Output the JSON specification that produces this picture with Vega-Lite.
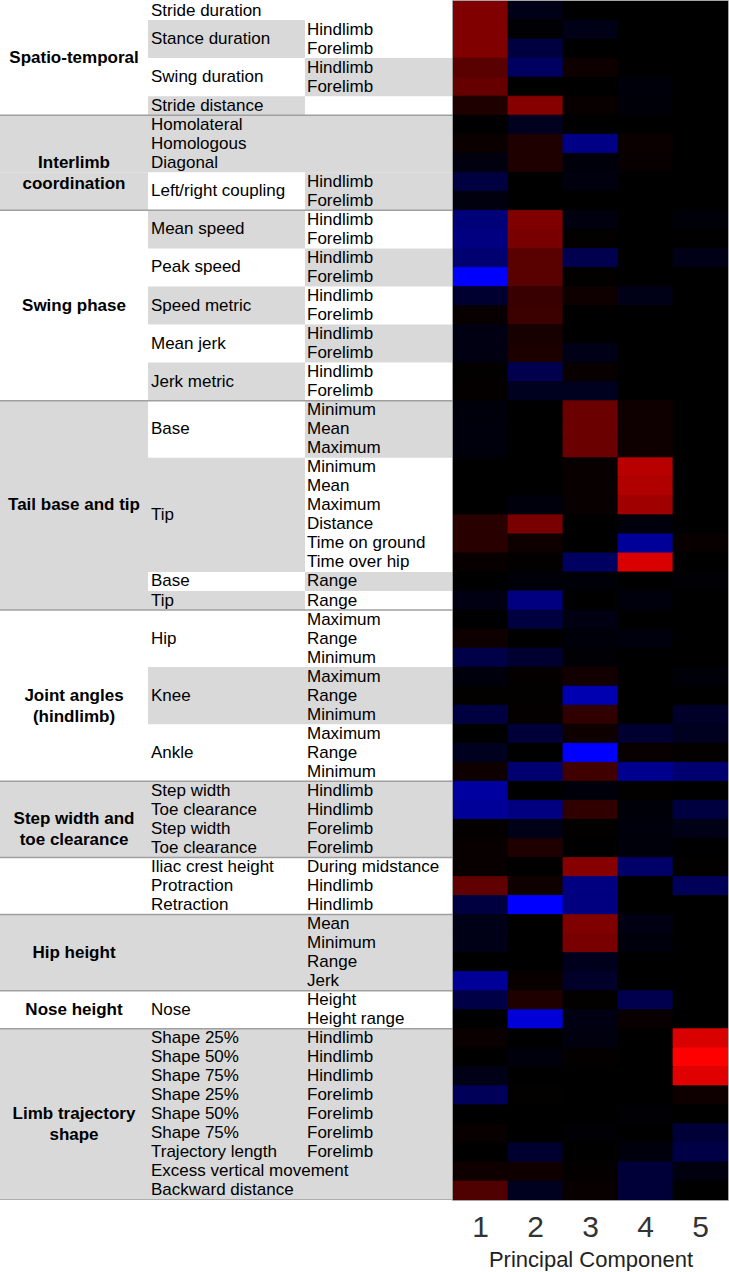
{
  "$schema": "https://vega.github.io/schema/vega-lite/v6.json",
  "padding": 0,
  "spacing": 0,
  "bounds": "flush",
  "background": "white",
  "config": {"font": "Liberation Sans", "view": {"stroke": null}},
  "datasets": {
    "shade": [
      {"c0":0,"c1":3,"r0":6,"r1":9},{"c0":0,"c1":1,"r0":9,"r1":11},{"c0":2,"c1":3,"r0":9,"r1":11},
      {"c0":0,"c1":1,"r0":21,"r1":32},{"c0":2,"c1":3,"r0":21,"r1":24},{"c0":1,"c1":2,"r0":24,"r1":30},{"c0":2,"c1":3,"r0":30,"r1":31},{"c0":1,"c1":2,"r0":31,"r1":32},
      {"c0":1,"c1":3,"r0":35,"r1":38},
      {"c0":0,"c1":3,"r0":41,"r1":45},{"c0":0,"c1":3,"r0":48,"r1":52},{"c0":0,"c1":3,"r0":54,"r1":63},
      {"c0":1,"c1":2,"r0":1,"r1":3},{"c0":2,"c1":3,"r0":3,"r1":5},{"c0":1,"c1":2,"r0":5,"r1":6},
      {"c0":1,"c1":2,"r0":11,"r1":13},{"c0":2,"c1":3,"r0":13,"r1":15},{"c0":1,"c1":2,"r0":15,"r1":17},{"c0":2,"c1":3,"r0":17,"r1":19},{"c0":1,"c1":2,"r0":19,"r1":21}
    ],
    "seps": [{"b":6},{"b":11},{"b":21},{"b":32},{"b":41},{"b":45},{"b":48},{"b":52},{"b":54},{"b":63}],
    "txt": [
      {"t":"Spatio-temporal","c":0,"r0":0,"r1":6},
      {"t":"Interlimb\ncoordination","c":0,"r0":6,"r1":11},
      {"t":"Swing phase","c":0,"r0":11,"r1":21},
      {"t":"Tail base and tip","c":0,"r0":21,"r1":32},
      {"t":"Joint angles\n(hindlimb)","c":0,"r0":32,"r1":41},
      {"t":"Step width and\ntoe clearance","c":0,"r0":41,"r1":45},
      {"t":"Hip height","c":0,"r0":48,"r1":52},
      {"t":"Nose height","c":0,"r0":52,"r1":54},
      {"t":"Limb trajectory\nshape","c":0,"r0":54,"r1":63},
      {"t":"Stride duration","c":1,"r0":0,"r1":1},
      {"t":"Stance duration","c":1,"r0":1,"r1":3},
      {"t":"Swing duration","c":1,"r0":3,"r1":5},
      {"t":"Stride distance","c":1,"r0":5,"r1":6},
      {"t":"Homolateral","c":1,"r0":6,"r1":7},
      {"t":"Homologous","c":1,"r0":7,"r1":8},
      {"t":"Diagonal","c":1,"r0":8,"r1":9},
      {"t":"Left/right coupling","c":1,"r0":9,"r1":11},
      {"t":"Mean speed","c":1,"r0":11,"r1":13},
      {"t":"Peak speed","c":1,"r0":13,"r1":15},
      {"t":"Speed metric","c":1,"r0":15,"r1":17},
      {"t":"Mean jerk","c":1,"r0":17,"r1":19},
      {"t":"Jerk metric","c":1,"r0":19,"r1":21},
      {"t":"Base","c":1,"r0":21,"r1":24},
      {"t":"Tip","c":1,"r0":24,"r1":30},
      {"t":"Base","c":1,"r0":30,"r1":31},
      {"t":"Tip","c":1,"r0":31,"r1":32},
      {"t":"Hip","c":1,"r0":32,"r1":35},
      {"t":"Knee","c":1,"r0":35,"r1":38},
      {"t":"Ankle","c":1,"r0":38,"r1":41},
      {"t":"Step width","c":1,"r0":41,"r1":42},
      {"t":"Toe clearance","c":1,"r0":42,"r1":43},
      {"t":"Step width","c":1,"r0":43,"r1":44},
      {"t":"Toe clearance","c":1,"r0":44,"r1":45},
      {"t":"Iliac crest height","c":1,"r0":45,"r1":46},
      {"t":"Protraction","c":1,"r0":46,"r1":47},
      {"t":"Retraction","c":1,"r0":47,"r1":48},
      {"t":"Nose","c":1,"r0":52,"r1":54},
      {"t":"Shape 25%","c":1,"r0":54,"r1":55},
      {"t":"Shape 50%","c":1,"r0":55,"r1":56},
      {"t":"Shape 75%","c":1,"r0":56,"r1":57},
      {"t":"Shape 25%","c":1,"r0":57,"r1":58},
      {"t":"Shape 50%","c":1,"r0":58,"r1":59},
      {"t":"Shape 75%","c":1,"r0":59,"r1":60},
      {"t":"Trajectory length","c":1,"r0":60,"r1":61},
      {"t":"Excess vertical movement","c":1,"r0":61,"r1":62},
      {"t":"Backward distance","c":1,"r0":62,"r1":63},
      {"t":"Hindlimb","c":2,"r0":1,"r1":2},{"t":"Forelimb","c":2,"r0":2,"r1":3},
      {"t":"Hindlimb","c":2,"r0":3,"r1":4},{"t":"Forelimb","c":2,"r0":4,"r1":5},
      {"t":"Hindlimb","c":2,"r0":9,"r1":10},{"t":"Forelimb","c":2,"r0":10,"r1":11},
      {"t":"Hindlimb","c":2,"r0":11,"r1":12},{"t":"Forelimb","c":2,"r0":12,"r1":13},
      {"t":"Hindlimb","c":2,"r0":13,"r1":14},{"t":"Forelimb","c":2,"r0":14,"r1":15},
      {"t":"Hindlimb","c":2,"r0":15,"r1":16},{"t":"Forelimb","c":2,"r0":16,"r1":17},
      {"t":"Hindlimb","c":2,"r0":17,"r1":18},{"t":"Forelimb","c":2,"r0":18,"r1":19},
      {"t":"Hindlimb","c":2,"r0":19,"r1":20},{"t":"Forelimb","c":2,"r0":20,"r1":21},
      {"t":"Minimum","c":2,"r0":21,"r1":22},{"t":"Mean","c":2,"r0":22,"r1":23},{"t":"Maximum","c":2,"r0":23,"r1":24},
      {"t":"Minimum","c":2,"r0":24,"r1":25},{"t":"Mean","c":2,"r0":25,"r1":26},{"t":"Maximum","c":2,"r0":26,"r1":27},
      {"t":"Distance","c":2,"r0":27,"r1":28},{"t":"Time on ground","c":2,"r0":28,"r1":29},{"t":"Time over hip","c":2,"r0":29,"r1":30},
      {"t":"Range","c":2,"r0":30,"r1":31},{"t":"Range","c":2,"r0":31,"r1":32},
      {"t":"Maximum","c":2,"r0":32,"r1":33},{"t":"Range","c":2,"r0":33,"r1":34},{"t":"Minimum","c":2,"r0":34,"r1":35},
      {"t":"Maximum","c":2,"r0":35,"r1":36},{"t":"Range","c":2,"r0":36,"r1":37},{"t":"Minimum","c":2,"r0":37,"r1":38},
      {"t":"Maximum","c":2,"r0":38,"r1":39},{"t":"Range","c":2,"r0":39,"r1":40},{"t":"Minimum","c":2,"r0":40,"r1":41},
      {"t":"Hindlimb","c":2,"r0":41,"r1":42},{"t":"Hindlimb","c":2,"r0":42,"r1":43},
      {"t":"Forelimb","c":2,"r0":43,"r1":44},{"t":"Forelimb","c":2,"r0":44,"r1":45},
      {"t":"During midstance","c":2,"r0":45,"r1":46},{"t":"Hindlimb","c":2,"r0":46,"r1":47},{"t":"Hindlimb","c":2,"r0":47,"r1":48},
      {"t":"Mean","c":2,"r0":48,"r1":49},{"t":"Minimum","c":2,"r0":49,"r1":50},{"t":"Range","c":2,"r0":50,"r1":51},{"t":"Jerk","c":2,"r0":51,"r1":52},
      {"t":"Height","c":2,"r0":52,"r1":53},{"t":"Height range","c":2,"r0":53,"r1":54},
      {"t":"Hindlimb","c":2,"r0":54,"r1":55},{"t":"Hindlimb","c":2,"r0":55,"r1":56},{"t":"Hindlimb","c":2,"r0":56,"r1":57},
      {"t":"Forelimb","c":2,"r0":57,"r1":58},{"t":"Forelimb","c":2,"r0":58,"r1":59},{"t":"Forelimb","c":2,"r0":59,"r1":60},{"t":"Forelimb","c":2,"r0":60,"r1":61}
    ],
    "heat": [
      {"r":0,"1":0.5,"2":-0.09,"3":0,"4":0,"5":0},
      {"r":1,"1":0.5,"2":-0.02,"3":-0.09,"4":0,"5":0},
      {"r":2,"1":0.5,"2":-0.25,"3":0,"4":0,"5":0},
      {"r":3,"1":0.35,"2":-0.38,"3":0.06,"4":0,"5":0},
      {"r":4,"1":0.4,"2":0,"3":0,"4":-0.04,"5":0},
      {"r":5,"1":0.12,"2":0.53,"3":0.03,"4":-0.03,"5":0},
      {"r":6,"1":0,"2":-0.12,"3":0,"4":0,"5":0},
      {"r":7,"1":0.04,"2":0.12,"3":-0.53,"4":0.04,"5":0},
      {"r":8,"1":-0.06,"2":0.12,"3":-0.04,"4":0.03,"5":0},
      {"r":9,"1":-0.25,"2":0,"3":-0.06,"4":0,"5":0},
      {"r":10,"1":-0.06,"2":0,"3":0,"4":0,"5":0},
      {"r":11,"1":-0.47,"2":0.5,"3":-0.06,"4":0,"5":-0.03},
      {"r":12,"1":-0.5,"2":0.47,"3":0.01,"4":0,"5":0},
      {"r":13,"1":-0.44,"2":0.35,"3":-0.31,"4":0,"5":-0.09},
      {"r":14,"1":-1,"2":0.35,"3":0.01,"4":0,"5":0},
      {"r":15,"1":-0.19,"2":0.22,"3":0.06,"4":-0.09,"5":0},
      {"r":16,"1":0.03,"2":0.23,"3":0,"4":0,"5":0},
      {"r":17,"1":-0.07,"2":0.09,"3":0,"4":0,"5":0},
      {"r":18,"1":-0.07,"2":0.11,"3":-0.09,"4":0,"5":0},
      {"r":19,"1":0.01,"2":-0.31,"3":0.03,"4":0,"5":0},
      {"r":20,"1":0.02,"2":-0.12,"3":-0.12,"4":0,"5":0},
      {"r":21,"1":-0.04,"2":0,"3":0.42,"4":0.06,"5":0},
      {"r":22,"1":-0.05,"2":0,"3":0.42,"4":0.06,"5":0},
      {"r":23,"1":-0.05,"2":0,"3":0.42,"4":0.06,"5":0},
      {"r":24,"1":0,"2":0,"3":0.03,"4":0.72,"5":0},
      {"r":25,"1":0,"2":0,"3":0.03,"4":0.69,"5":0},
      {"r":26,"1":0,"2":-0.05,"3":0.03,"4":0.63,"5":0},
      {"r":27,"1":0.16,"2":0.47,"3":0,"4":-0.05,"5":0},
      {"r":28,"1":0.16,"2":0.06,"3":0,"4":-0.6,"5":0.03},
      {"r":29,"1":0.03,"2":0.01,"3":-0.38,"4":0.85,"5":0},
      {"r":30,"1":0,"2":-0.03,"3":-0.03,"4":0,"5":-0.02},
      {"r":31,"1":-0.07,"2":-0.5,"3":0,"4":-0.05,"5":0},
      {"r":32,"1":0,"2":-0.25,"3":-0.07,"4":0,"5":0},
      {"r":33,"1":0.06,"2":0,"3":-0.04,"4":-0.05,"5":0},
      {"r":34,"1":-0.28,"2":-0.19,"3":-0.02,"4":0,"5":0},
      {"r":35,"1":-0.05,"2":0.02,"3":0.07,"4":0,"5":-0.03},
      {"r":36,"1":0.01,"2":0.01,"3":-0.69,"4":0,"5":0},
      {"r":37,"1":-0.25,"2":0.02,"3":0.19,"4":0,"5":-0.16},
      {"r":38,"1":0,"2":-0.22,"3":0.06,"4":-0.19,"5":-0.12},
      {"r":39,"1":-0.12,"2":0,"3":-1,"4":0.03,"5":0.02},
      {"r":40,"1":0.06,"2":-0.44,"3":0.25,"4":-0.56,"5":-0.44},
      {"r":41,"1":-0.63,"2":0,"3":-0.04,"4":0.01,"5":0},
      {"r":42,"1":-0.6,"2":-0.5,"3":0.19,"4":-0.03,"5":-0.25},
      {"r":43,"1":0.02,"2":-0.09,"3":0.01,"4":-0.05,"5":-0.09},
      {"r":44,"1":0.03,"2":0.12,"3":0,"4":-0.04,"5":0},
      {"r":45,"1":0.03,"2":0,"3":0.53,"4":-0.41,"5":0.01},
      {"r":46,"1":0.38,"2":0.06,"3":-0.5,"4":0,"5":-0.35},
      {"r":47,"1":-0.25,"2":-1,"3":-0.5,"4":0,"5":0},
      {"r":48,"1":-0.09,"2":0,"3":0.5,"4":-0.07,"5":0},
      {"r":49,"1":-0.09,"2":0,"3":0.47,"4":-0.05,"5":0},
      {"r":50,"1":0,"2":0,"3":-0.11,"4":0,"5":0},
      {"r":51,"1":-0.6,"2":0.03,"3":-0.16,"4":0,"5":0},
      {"r":52,"1":-0.28,"2":0.12,"3":0.01,"4":-0.31,"5":0},
      {"r":53,"1":0,"2":-0.85,"3":-0.07,"4":0.03,"5":0},
      {"r":54,"1":0.04,"2":0,"3":-0.06,"4":0,"5":0.85},
      {"r":55,"1":0,"2":-0.05,"3":0.02,"4":0,"5":1},
      {"r":56,"1":-0.09,"2":0,"3":0,"4":0,"5":0.88},
      {"r":57,"1":-0.35,"2":0.01,"3":0,"4":0,"5":0.06},
      {"r":58,"1":0,"2":0,"3":0,"4":-0.02,"5":0},
      {"r":59,"1":0.03,"2":0,"3":-0.02,"4":0,"5":-0.22},
      {"r":60,"1":0,"2":-0.19,"3":0,"4":-0.05,"5":-0.28},
      {"r":61,"1":0.06,"2":0.06,"3":0.02,"4":-0.22,"5":-0.06},
      {"r":62,"1":0.31,"2":-0.12,"3":0.03,"4":-0.22,"5":0}
    ]
  },
  "hconcat": [
    {
      "width": 453,
      "height": 1199,
      "view": {"stroke": null},
      "layer": [
        {
          "data": {"name": "shade"},
          "mark": {"type": "rect", "fill": "#d9d9d9"},
          "encoding": {
            "x": {"field": "c0", "type": "quantitative", "axis": null,
                  "scale": {"domain": [0, 1, 2, 3], "range": [0, 148, 305, 453], "nice": false, "zero": false}},
            "x2": {"field": "c1"},
            "y": {"field": "r0", "type": "quantitative", "axis": null,
                  "scale": {"domain": [0, 63], "reverse": true, "nice": false, "zero": false}},
            "y2": {"field": "r1"}
          }
        },
        {
          "data": {"name": "seps"},
          "mark": {"type": "rule", "stroke": "#a0a0a0", "strokeWidth": 1.5, "clip": true},
          "encoding": {
            "y": {"field": "b", "type": "quantitative"}
          }
        },
        {
          "data": {"name": "txt"},
          "transform": [
            {"filter": "datum.c == 0"},
            {"calculate": "(datum.r0 + datum.r1) / 2", "as": "mid"}
          ],
          "mark": {"type": "text", "align": "center", "baseline": "middle", "fontSize": 17, "fontWeight": "bold", "color": "#000", "lineBreak": "\n", "lineHeight": 21},
          "encoding": {
            "x": {"datum": 0.5, "type": "quantitative"},
            "y": {"field": "mid", "type": "quantitative"},
            "text": {"field": "t"}
          }
        },
        {
          "data": {"name": "txt"},
          "transform": [
            {"filter": "datum.c == 1"},
            {"calculate": "(datum.r0 + datum.r1) / 2", "as": "mid"}
          ],
          "mark": {"type": "text", "align": "left", "baseline": "middle", "fontSize": 17, "color": "#000", "dx": 3},
          "encoding": {
            "x": {"datum": 1, "type": "quantitative"},
            "y": {"field": "mid", "type": "quantitative"},
            "text": {"field": "t"}
          }
        },
        {
          "data": {"name": "txt"},
          "transform": [
            {"filter": "datum.c == 2"},
            {"calculate": "(datum.r0 + datum.r1) / 2", "as": "mid"}
          ],
          "mark": {"type": "text", "align": "left", "baseline": "middle", "fontSize": 17, "color": "#000", "dx": 2},
          "encoding": {
            "x": {"datum": 2, "type": "quantitative"},
            "y": {"field": "mid", "type": "quantitative"},
            "text": {"field": "t"}
          }
        }
      ]
    },
    {
      "width": 275,
      "height": 1199,
      "view": {"stroke": "#888888", "strokeWidth": 1.5, "fill": "#000000"},
      "data": {"name": "heat"},
      "transform": [{"fold": ["1", "2", "3", "4", "5"], "as": ["pc", "v"]}],
      "mark": {"type": "rect", "strokeWidth": 0.8, "clip": true},
      "encoding": {
        "x": {"field": "pc", "type": "ordinal", "scale": {"paddingInner": 0, "paddingOuter": 0},
              "axis": {"title": "Principal Component", "labelAngle": 0, "labelFontSize": 30, "labelColor": "#333", "ticks": false, "domain": false, "grid": false, "labelPadding": 12, "titleFontSize": 22, "titleFontWeight": "normal", "titleColor": "#222", "titlePadding": 7}},
        "y": {"field": "r", "type": "ordinal", "axis": null, "scale": {"paddingInner": 0, "paddingOuter": 0}},
        "color": {"field": "v", "type": "quantitative", "legend": null,
                  "scale": {"domain": [-1, 0, 1], "range": ["#0000ff", "#000000", "#ff0000"], "interpolate": "rgb", "clamp": true}},
        "stroke": {"field": "v", "type": "quantitative", "legend": null,
                  "scale": {"domain": [-1, 0, 1], "range": ["#0000ff", "#000000", "#ff0000"], "interpolate": "rgb", "clamp": true}}
      }
    }
  ]
}
